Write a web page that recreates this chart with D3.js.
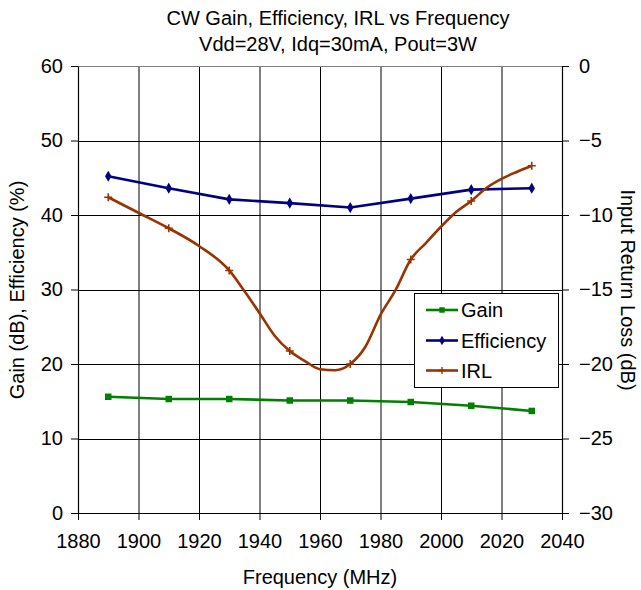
<!DOCTYPE html>
<html><head><meta charset="utf-8">
<script src="https://cdn.jsdelivr.net/npm/d3@7"></script>
<style>body{margin:0;background:#fff}svg{display:block}text{font-family:"Liberation Sans",Arial,sans-serif;fill:#000}</style>
</head><body>
<svg id="c" width="641" height="590"></svg>
<script>
const freqMarkers = [1890,1910,1930,1950,1970,1990,2010,2030];
const gain = [15.6,15.3,15.3,15.1,15.1,14.9,14.4,13.7];
const efficiency = [45.2,43.6,42.1,41.6,41.0,42.2,43.4,43.6];
const irlFreq = [1890,1900,1910,1920,1930,1935,1940,1945,1950,1955,1960,1965,1970,1975,1980,1985,1990,1995,2000,2005,2010,2015,2020,2025,2030];
const irl = [-8.81,-9.85,-10.89,-12.08,-13.72,-15.1,-16.58,-18.1,-19.13,-19.8,-20.35,-20.42,-20.0,-18.84,-16.7,-15.03,-12.99,-11.88,-10.79,-9.8,-9.06,-8.19,-7.58,-7.11,-6.69];
const xTicks = [1880,1900,1920,1940,1960,1980,2000,2020,2040];
const yLeftTicks = [0,10,20,30,40,50,60];
const yRightTicks = [-30,-25,-20,-15,-10,-5,0];
const seriesNames = ["Gain","Efficiency","IRL"];
const colors = ["#008000","#000080","#993300"];

const L=78,R=562,T=66,B=513;
const svg=d3.select("#c");
const x=d3.scaleLinear().domain([1880,2040]).range([L,R]);
const yL=d3.scaleLinear().domain([0,60]).range([B,T]);
const yR=d3.scaleLinear().domain([-30,0]).range([B,T]);

// grid
const g=svg.append("g");
g.selectAll(".vg").data(xTicks.slice(1,-1)).join("line")
 .attr("x1",d=>x(d)+0.5).attr("x2",d=>x(d)+0.5).attr("y1",T).attr("y2",B)
 .attr("stroke","#000").attr("stroke-width",1);
g.selectAll(".hg").data(yLeftTicks.slice(1,-1)).join("line")
 .attr("x1",L).attr("x2",R).attr("y1",d=>Math.round(yL(d))+0.5).attr("y2",d=>Math.round(yL(d))+0.5)
 .attr("stroke","#000").attr("stroke-width",1);
g.append("line").attr("x1",L).attr("x2",R).attr("y1",T+0.5).attr("y2",T+0.5).attr("stroke","#808080");

// axes
const fs="20px";
const ax=svg.append("g").attr("transform",`translate(0,${B})`).call(d3.axisBottom(x).tickValues(xTicks).tickFormat(d3.format("d")).tickSize(7).tickSizeOuter(0));
ax.selectAll("text").attr("dy","1.25em").style("font-size",fs);
const ayl=svg.append("g").attr("transform",`translate(${L},0)`).call(d3.axisLeft(yL).tickValues(yLeftTicks).tickSize(7).tickSizeOuter(0));
ayl.selectAll("text").attr("x",-15).style("font-size",fs);
const ayr=svg.append("g").attr("transform",`translate(${R},0)`).call(d3.axisRight(yR).tickValues(yRightTicks).tickSize(7).tickSizeOuter(0));
ayr.selectAll("text").attr("x",17).style("font-size",fs);
svg.selectAll(".domain").attr("stroke","#000").attr("stroke-width",1.2);
svg.selectAll(".tick line").attr("stroke","#000");

// lines
const lineL=d3.line().x(d=>x(d[0])).y(d=>yL(d[1]));
const lineR=d3.line().x(d=>x(d[0])).y(d=>yR(d[1])).curve(d3.curveMonotoneX);
const gd=freqMarkers.map((f,i)=>[f,gain[i]]);
const ed=freqMarkers.map((f,i)=>[f,efficiency[i]]);
const id=irlFreq.map((f,i)=>[f,irl[i]]);
svg.append("path").attr("d",lineL(gd)).attr("fill","none").attr("stroke",colors[0]).attr("stroke-width",2.6);
svg.append("path").attr("d",lineL(ed)).attr("fill","none").attr("stroke",colors[1]).attr("stroke-width",2.6);
svg.append("path").attr("d",lineR(id)).attr("fill","none").attr("stroke",colors[2]).attr("stroke-width",2.6);
const sq=d3.symbol().type(d3.symbolSquare).size(42);
const dm=d3.symbol().type(d3.symbolDiamond).size(36);
svg.selectAll(".gm").data(gd).join("path").attr("d",sq).attr("transform",d=>`translate(${x(d[0])},${yL(d[1])})`).attr("fill",colors[0]);
svg.selectAll(".em").data(ed).join("path").attr("d",dm).attr("transform",d=>`translate(${x(d[0])},${yL(d[1])})`).attr("fill",colors[1]);
const im=id.filter(d=>freqMarkers.includes(d[0]));
svg.selectAll(".im").data(im).join("path").attr("d","M-4,0H4M0,-4V4").attr("transform",d=>`translate(${x(d[0])},${yR(d[1])})`).attr("stroke",colors[2]).attr("stroke-width",1.6);

// legend
const lg=svg.append("g");
lg.append("rect").attr("x",414.5).attr("y",293.5).attr("width",144).attr("height",94).attr("fill","#fff").attr("stroke","#000");
const ly=[310,340.5,370.5];
seriesNames.forEach((n,i)=>{
  lg.append("line").attr("x1",426).attr("x2",458).attr("y1",ly[i]).attr("y2",ly[i]).attr("stroke",colors[i]).attr("stroke-width",2.6);
  if(i<2) lg.append("path").attr("d",i==0?d3.symbol().type(d3.symbolSquare).size(30)():d3.symbol().type(d3.symbolDiamond).size(26)()).attr("transform",`translate(442,${ly[i]})`).attr("fill",colors[i]);
  else lg.append("path").attr("d","M-3.5,0H3.5M0,-3.5V3.5").attr("transform",`translate(442,${ly[i]})`).attr("stroke",colors[i]).attr("stroke-width",1.4);
  lg.append("text").attr("x",461).attr("y",ly[i]).attr("dy","0.35em").style("font-size",fs).text(n);
});

// titles
svg.append("text").attr("x",338).attr("y",25).attr("text-anchor","middle").style("font-size","20px").text("CW Gain, Efficiency, IRL vs Frequency");
svg.append("text").attr("x",338).attr("y",51).attr("text-anchor","middle").style("font-size","20px").text("Vdd=28V, Idq=30mA, Pout=3W");
svg.append("text").attr("x",320).attr("y",584).attr("text-anchor","middle").style("font-size",fs).text("Frequency (MHz)");
svg.append("text").attr("transform","translate(24,290) rotate(-90)").attr("text-anchor","middle").style("font-size",fs).text("Gain (dB), Efficiency (%)");
svg.append("text").attr("transform","translate(621,290) rotate(90)").attr("text-anchor","middle").style("font-size",fs).text("Input Return Loss (dB)");
</script>
</body></html>
